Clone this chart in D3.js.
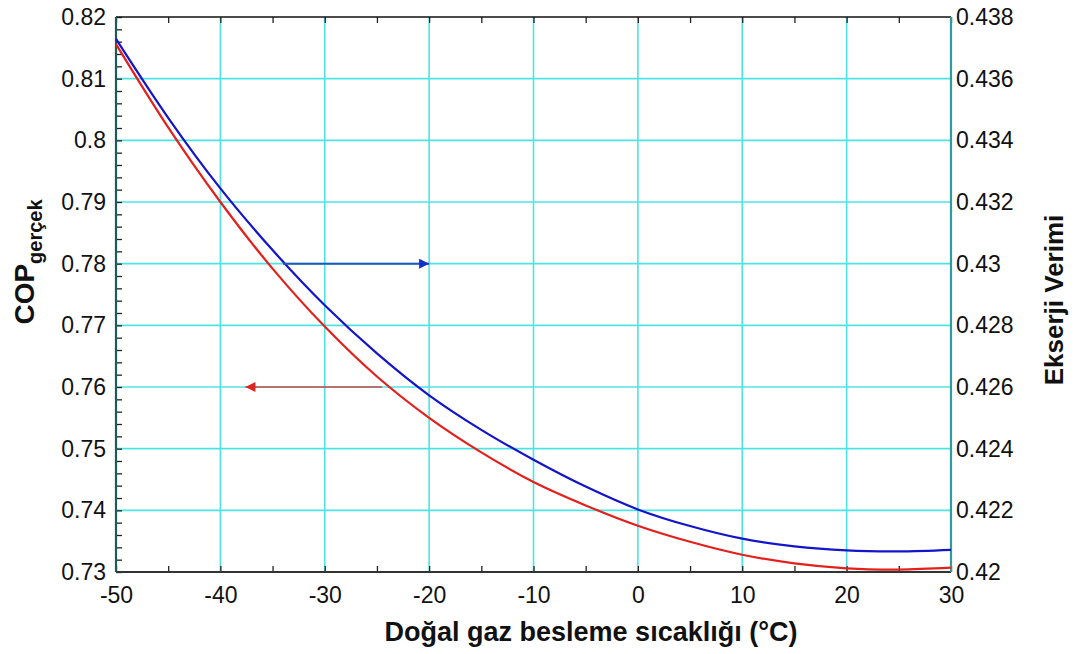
<!DOCTYPE html>
<html>
<head>
<meta charset="utf-8">
<script src="https://cdn.jsdelivr.net/npm/d3@7"></script>
<style>
    body { margin: 0; background: #fff; }
    text { font-family: "Liberation Sans", Arial, sans-serif; }
</style>
</head>
<body>
<svg id="chart"></svg>
<script>
// values
const temps    = [-50, -45, -40, -35, -30, -25, -20, -15, -10, -5, 0, 5, 10, 15, 20, 25, 30];
const copReal  = [0.8156, 0.8021, 0.7900, 0.7792, 0.7698, 0.7617, 0.7550, 0.7494, 0.7446, 0.7408,
                  0.7375, 0.7349, 0.7328, 0.7314, 0.7306, 0.7304, 0.7307];
const exergy   = [0.43729, 0.43473, 0.43244, 0.43044, 0.42865, 0.42709, 0.42573, 0.42461, 0.42364, 0.42277,
                  0.42203, 0.42149, 0.42108, 0.42083, 0.42070, 0.42067, 0.42072];

const xTicks      = [-50, -40, -30, -20, -10, 0, 10, 20, 30];
const xMinorTicks = d3.range(-50, 31, 5);
const yLeftTicks  = [0.73, 0.74, 0.75, 0.76, 0.77, 0.78, 0.79, 0.80, 0.81, 0.82];
const yRightTicks = [0.420, 0.422, 0.424, 0.426, 0.428, 0.430, 0.432, 0.434, 0.436, 0.438];

// arrows pointing to the axis each curve belongs to
const blueArrow = {from: -34, to: -20, value: 0.430};
const redArrow  = {from: -24.5, to: -37.6, value: 0.76};

const margin = {top: 17, right: 123, bottom: 82, left: 116},
    width = 1074 - margin.left - margin.right,
    height = 654 - margin.top - margin.bottom;

const svg = d3.select("#chart")
    .attr("width", 1074)
    .attr("height", 654);

const g = svg.append("g")
    .attr("transform", "translate(" + margin.left + "," + margin.top + ")");

const xScale = d3.scaleLinear().domain([-50, 30]).range([0, width]);
const yLeft = d3.scaleLinear().domain([0.73, 0.82]).range([height, 0]);
const yRight = d3.scaleLinear().domain([0.42, 0.438]).range([height, 0]);

const gridColor = "#4ee3e3";

// grid
g.append("g")
    .selectAll("line.vgrid")
    .data(xTicks.slice(1, -1))
    .enter().append("line")
    .attr("x1", d => xScale(d)).attr("x2", d => xScale(d))
    .attr("y1", 0).attr("y2", height)
    .attr("stroke", gridColor).attr("stroke-width", 1.6);

g.append("g")
    .selectAll("line.hgrid")
    .data(yLeftTicks.slice(1, -1))
    .enter().append("line")
    .attr("x1", 0).attr("x2", width)
    .attr("y1", d => yLeft(d)).attr("y2", d => yLeft(d))
    .attr("stroke", gridColor).attr("stroke-width", 1.6);

// minor ticks
const minorY = d3.range(0.73, 0.8201, 0.002);
g.append("g")
    .call(d3.axisRight(yLeft).tickValues(minorY).tickSize(6).tickFormat(""))
    .call(a => a.select(".domain").remove())
    .selectAll("line").attr("stroke", "#222").attr("stroke-width", 1.3);

g.append("g")
    .attr("transform", "translate(0," + height + ")")
    .call(d3.axisTop(xScale).tickValues(xMinorTicks).tickSize(6).tickFormat(""))
    .call(a => a.select(".domain").remove())
    .selectAll("line").attr("stroke", "#222").attr("stroke-width", 1.3);

g.append("g")
    .call(d3.axisBottom(xScale).tickValues(xMinorTicks).tickSize(6).tickFormat(""))
    .call(a => a.select(".domain").remove())
    .selectAll("line").attr("stroke", "#222").attr("stroke-width", 1.3);

// frame
g.append("line").attr("x1", 0).attr("x2", width).attr("y1", 0).attr("y2", 0)
    .attr("stroke", "#111").attr("stroke-width", 1.6);
g.append("line").attr("x1", 0).attr("x2", width).attr("y1", height).attr("y2", height)
    .attr("stroke", "#333").attr("stroke-width", 2.2);
g.append("line").attr("x1", 0).attr("x2", 0).attr("y1", 0).attr("y2", height)
    .attr("stroke", "#1f5a5a").attr("stroke-width", 2.2);
g.append("line").attr("x1", width).attr("x2", width).attr("y1", 0).attr("y2", height)
    .attr("stroke", "#2e9c9c").attr("stroke-width", 2.2);

// tick labels
const labelFont = 23;

g.append("g")
    .call(d3.axisLeft(yLeft).tickValues(yLeftTicks).tickSize(0).tickPadding(10)
        .tickFormat(d => String(+d.toFixed(2))))
    .call(a => a.select(".domain").remove())
    .selectAll("text")
    .attr("font-size", labelFont).attr("fill", "#111")
    .style("font-family", "'Liberation Sans', Arial, sans-serif");

g.append("g")
    .attr("transform", "translate(" + width + ",0)")
    .call(d3.axisRight(yRight).tickValues(yRightTicks).tickSize(0).tickPadding(5)
        .tickFormat(d => String(+d.toFixed(3))))
    .call(a => a.select(".domain").remove())
    .selectAll("text")
    .attr("font-size", labelFont).attr("fill", "#111")
    .style("font-family", "'Liberation Sans', Arial, sans-serif");

g.append("g")
    .attr("transform", "translate(0," + height + ")")
    .call(d3.axisBottom(xScale).tickValues(xTicks).tickSize(0).tickPadding(15)
        .tickFormat(d => String(d)))
    .call(a => a.select(".domain").remove())
    .selectAll("text")
    .attr("font-size", labelFont).attr("fill", "#111")
    .style("font-family", "'Liberation Sans', Arial, sans-serif");

// curves
const copLine = d3.line()
    .x((d, i) => xScale(temps[i]))
    .y(d => yLeft(d))
    .curve(d3.curveCatmullRom.alpha(0.5));

const exLine = d3.line()
    .x((d, i) => xScale(temps[i]))
    .y(d => yRight(d))
    .curve(d3.curveCatmullRom.alpha(0.5));

g.append("path")
    .datum(copReal)
    .attr("d", copLine)
    .attr("fill", "none")
    .attr("stroke", "#e3201b")
    .attr("stroke-width", 2.2);

g.append("path")
    .datum(exergy)
    .attr("d", exLine)
    .attr("fill", "none")
    .attr("stroke", "#1414c8")
    .attr("stroke-width", 2.2);

// arrows
const defs = svg.append("defs");
function marker(id, color) {
    defs.append("marker")
        .attr("id", id)
        .attr("viewBox", "0 0 10 10")
        .attr("refX", 10).attr("refY", 5)
        .attr("markerWidth", 13).attr("markerHeight", 10)
        .attr("markerUnits", "userSpaceOnUse")
        .attr("orient", "auto")
        .append("path")
        .attr("d", "M0,0L10,5L0,10Z")
        .attr("fill", color);
}
marker("arrowBlue", "#1432c8");
marker("arrowRed", "#e02222");

g.append("line")
    .attr("x1", xScale(blueArrow.from)).attr("x2", xScale(blueArrow.to))
    .attr("y1", yRight(blueArrow.value)).attr("y2", yRight(blueArrow.value))
    .attr("stroke", "#2456b8").attr("stroke-width", 2)
    .attr("marker-end", "url(#arrowBlue)");

g.append("line")
    .attr("x1", xScale(redArrow.from)).attr("x2", xScale(redArrow.to))
    .attr("y1", yLeft(redArrow.value)).attr("y2", yLeft(redArrow.value))
    .attr("stroke", "#c84a4a").attr("stroke-width", 1.6)
    .attr("marker-end", "url(#arrowRed)");

// axis titles
svg.append("text")
    .attr("x", 591)
    .attr("y", 641)
    .attr("text-anchor", "middle")
    .attr("font-size", 27)
    .attr("font-weight", "bold")
    .attr("fill", "#111")
    .text("Doğal gaz besleme sıcaklığı (°C)");

const yTitle = svg.append("text")
    .attr("transform", "translate(34,262) rotate(-90)")
    .attr("text-anchor", "middle")
    .attr("font-weight", "bold")
    .attr("fill", "#111");
yTitle.append("tspan").attr("font-size", 28).text("COP");
yTitle.append("tspan").attr("font-size", 20).attr("dy", 8).text("gerçek");

svg.append("text")
    .attr("transform", "translate(1063,300) rotate(-90)")
    .attr("text-anchor", "middle")
    .attr("font-size", 26)
    .attr("font-weight", "bold")
    .attr("fill", "#111")
    .text("Ekserji Verimi");
</script>
</body>
</html>
